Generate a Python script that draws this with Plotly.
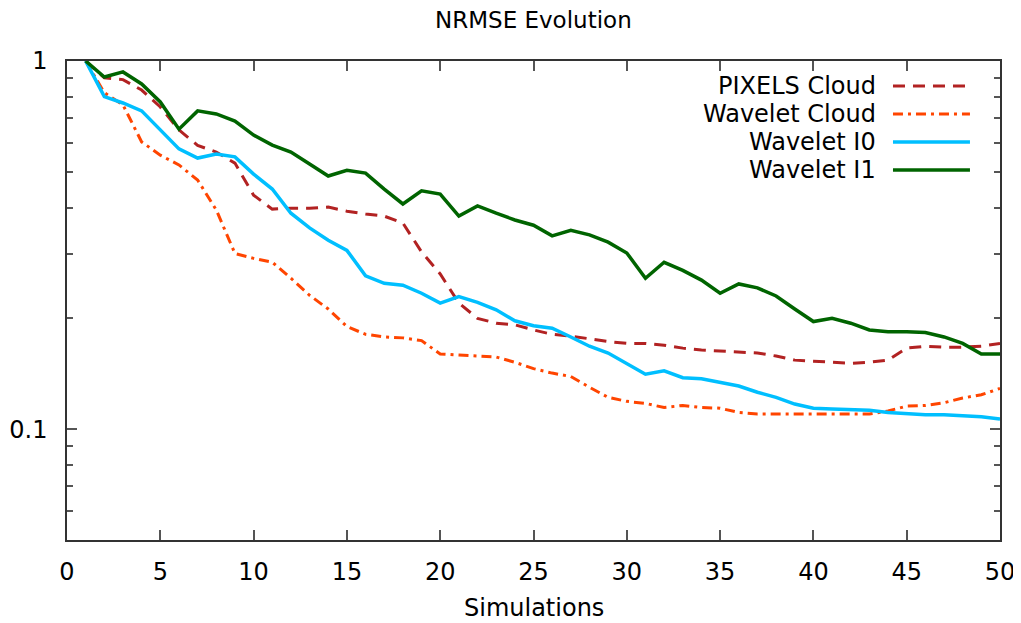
import plotly.graph_objects as go
import math

simulations = list(range(1, 51))

pixels_cloud = [1.0, 0.90, 0.89, 0.834, 0.75, 0.65, 0.59, 0.566, 0.528, 0.432,
                0.396, 0.398, 0.398, 0.401, 0.391, 0.384, 0.379, 0.363, 0.303, 0.264,
                0.220, 0.200, 0.194, 0.192, 0.186, 0.181, 0.179, 0.176, 0.173, 0.171,
                0.171, 0.169, 0.166, 0.164, 0.163, 0.162, 0.161, 0.158, 0.154, 0.153,
                0.152, 0.151, 0.152, 0.154, 0.166, 0.168, 0.167, 0.167, 0.168, 0.171]

wavelet_cloud = [1.0, 0.82, 0.76, 0.603, 0.555, 0.522, 0.475, 0.394, 0.300, 0.291,
                 0.284, 0.257, 0.231, 0.212, 0.190, 0.181, 0.178, 0.177, 0.174, 0.160,
                 0.159, 0.158, 0.157, 0.152, 0.146, 0.142, 0.139, 0.130, 0.122, 0.119,
                 0.1175, 0.1145, 0.116, 0.1145, 0.114, 0.111, 0.110, 0.110, 0.110, 0.110,
                 0.110, 0.110, 0.110, 0.112, 0.1155, 0.116, 0.118, 0.1215, 0.124, 0.129]

wavelet_i0 = [1.0, 0.80, 0.769, 0.732, 0.65, 0.577, 0.545, 0.559, 0.549, 0.493,
              0.449, 0.386, 0.352, 0.326, 0.306, 0.261, 0.249, 0.246, 0.234, 0.220,
              0.229, 0.221, 0.211, 0.197, 0.191, 0.188, 0.178, 0.168, 0.161, 0.151,
              0.141, 0.144, 0.138, 0.137, 0.134, 0.131, 0.126, 0.122, 0.117, 0.114,
              0.1135, 0.113, 0.1125, 0.111, 0.110, 0.1095, 0.1095, 0.109, 0.108, 0.1065]

wavelet_i1 = [1.0, 0.905, 0.934, 0.866, 0.774, 0.653, 0.732, 0.718, 0.687, 0.629,
              0.591, 0.566, 0.525, 0.487, 0.505, 0.496, 0.449, 0.409, 0.444, 0.435,
              0.379, 0.404, 0.386, 0.370, 0.358, 0.335, 0.347, 0.337, 0.322, 0.301,
              0.257, 0.284, 0.270, 0.254, 0.234, 0.248, 0.242, 0.230, 0.212, 0.196,
              0.200, 0.194, 0.186, 0.184, 0.184, 0.183, 0.178, 0.171, 0.160, 0.160]

series_names = ["PIXELS Cloud", "Wavelet Cloud", "Wavelet I0", "Wavelet I1"]
series_values = [pixels_cloud, wavelet_cloud, wavelet_i0, wavelet_i1]
series_colors = ["#b22222", "#ff4500", "#00bfff", "#006400"]
series_dash = ["12px,8px", "10px,5px,3px,5px", "solid", "solid"]
series_width = [3, 3, 3.5, 3.5]

x_ticks = list(range(0, 51, 5))
y_ticks = [0.1, 1]
y_minor = [0.06, 0.07, 0.08, 0.09, 0.2, 0.3, 0.4, 0.5, 0.6, 0.7, 0.8, 0.9]

FONT = "DejaVu Sans"

fig = go.Figure()
for name, vals, col, dash, w in zip(series_names, series_values, series_colors, series_dash, series_width):
    fig.add_trace(go.Scatter(x=simulations, y=vals, mode="lines", name=name,
                             line=dict(color=col, dash=dash, width=w),
                             showlegend=False))

# gnuplot-style legend: text right-aligned, sample to the right
row_y = [0.9478, 0.8894, 0.8309, 0.7724]
for name, col, dash, w, yy in zip(series_names, series_colors, series_dash, series_width, row_y):
    fig.add_annotation(x=0.869, y=yy, xref="paper", yref="paper", text=name,
                       showarrow=False, xanchor="right", yanchor="middle",
                       font=dict(family=FONT, size=24, color="black"))
    fig.add_shape(type="line", xref="paper", yref="paper",
                  x0=0.8853, x1=0.9678, y0=yy, y1=yy,
                  line=dict(color=col, dash=dash, width=w))

axis_common = dict(showline=True, linecolor="#333333", linewidth=1.5, mirror="allticks",
                   ticks="inside", tickcolor="#555555", tickwidth=1.5,
                   showgrid=False, zeroline=False, automargin=False,
                   tickfont=dict(family=FONT, size=24, color="black"))

fig.update_xaxes(range=[0, 50], tickmode="array", tickvals=x_ticks, ticklen=10,
                 ticklabelstandoff=9, **axis_common)
fig.update_yaxes(type="log", range=[math.log10(0.05), 0], tickmode="array",
                 tickvals=y_ticks, ticktext=["0.1", "1"], ticklen=10,
                 ticklabelstandoff=13,
                 minor=dict(tickmode="array", tickvals=y_minor, ticks="inside",
                            ticklen=6, tickcolor="#555555", tickwidth=1.5),
                 **axis_common)

fig.add_annotation(x=0.5, y=1 + (61 - 20) / 479, xref="paper", yref="paper",
                   text="NRMSE Evolution", showarrow=False, yanchor="middle",
                   font=dict(family=FONT, size=23, color="black"))
fig.add_annotation(x=0.5, y=-(608 - 540) / 479, xref="paper", yref="paper",
                   text="Simulations", showarrow=False, yanchor="middle",
                   font=dict(family=FONT, size=24, color="black"))

# page body adds an 8px margin, so the figure is sized/offset to compensate
fig.update_layout(width=1013, height=615,
                  margin=dict(l=59, r=21, t=53, b=83),
                  paper_bgcolor="white", plot_bgcolor="white")

fig.write_html("out.html")
